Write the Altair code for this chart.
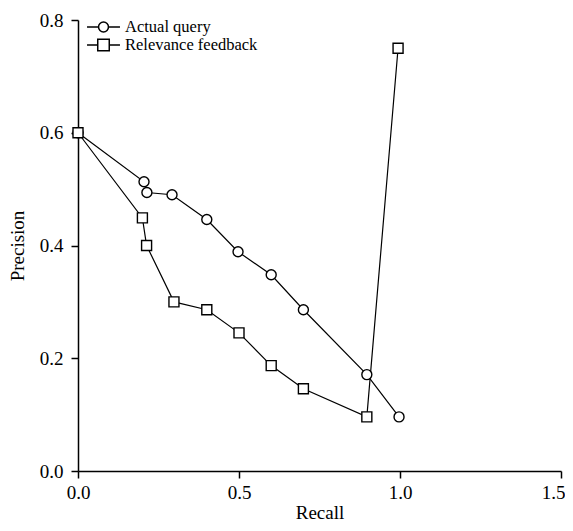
import altair as alt
import pandas as pd

series_names = ["Actual query", "Relevance feedback"]

aq_recall = [0.0, 0.205, 0.214, 0.292, 0.4, 0.497, 0.6, 0.7, 0.897, 0.997]
aq_precision = [0.6, 0.513, 0.494, 0.49, 0.446, 0.389, 0.348, 0.286, 0.171, 0.096]

rf_recall = [0.0, 0.2, 0.213, 0.298, 0.4, 0.5, 0.6, 0.7, 0.897, 0.994]
rf_precision = [0.6, 0.449, 0.4, 0.3, 0.286, 0.245, 0.187, 0.146, 0.096, 0.75]

x_ticks = [0.0, 0.5, 1.0, 1.5]
y_ticks = [0.0, 0.2, 0.4, 0.6, 0.8]

rows = []
for i, (r, p) in enumerate(zip(aq_recall, aq_precision)):
    rows.append({"series": series_names[0], "recall": r, "precision": p, "order": i})
for i, (r, p) in enumerate(zip(rf_recall, rf_precision)):
    rows.append({"series": series_names[1], "recall": r, "precision": p, "order": i})
df = pd.DataFrame(rows)

legend_df = pd.DataFrame({"series": series_names,
                          "recall": [None, None], "precision": [None, None]})

FONT = "Liberation Serif, Times New Roman, DejaVu Serif, serif"

x_enc = alt.X("recall:Q", title="Recall",
              scale=alt.Scale(domain=[0, 1.5], nice=False, zero=False),
              axis=alt.Axis(values=x_ticks, format=".1f", grid=False, labelFlush=False,
                            labelOffset={"condition": {"test": "datum.value == 1.5", "value": -8},
                                         "value": 0}))
y_enc = alt.Y("precision:Q", title="Precision",
              scale=alt.Scale(domain=[0, 0.8], nice=False, zero=False),
              axis=alt.Axis(values=y_ticks, format=".1f", grid=False, labelFlush=False))

base = alt.Chart(df)

lines = base.mark_line(color="black", strokeWidth=1.2).encode(
    x=x_enc, y=y_enc, detail="series:N", order="order:Q"
)

points = base.mark_point(filled=True, fill="white", stroke="black",
                         strokeWidth=1.4, size=100, opacity=1).encode(
    x=x_enc, y=y_enc,
    shape=alt.Shape("series:N",
                    scale=alt.Scale(domain=series_names, range=["circle", "square"]),
                    legend=None),
)

circle_path = ("M-2.06,0L-0.62,0M0.62,0L2.06,0"
               "M-0.62,0A0.62,0.62 0 1,0 0.62,0A0.62,0.62 0 1,0 -0.62,0Z")
square_path = ("M-2.06,0L-0.72,0M0.72,0L2.06,0"
               "M-0.72,-0.72L0.72,-0.72L0.72,0.72L-0.72,0.72Z")

legend_layer = alt.Chart(legend_df).mark_point(
    filled=False, color="black", strokeWidth=1.5, opacity=1
).encode(
    x=x_enc, y=y_enc,
    shape=alt.Shape("series:N",
                    scale=alt.Scale(domain=series_names, range=[circle_path, square_path]),
                    legend=alt.Legend(title=None, orient="none", legendX=16.5, legendY=-2,
                                      symbolSize=256, symbolStrokeWidth=1.5,
                                      symbolStrokeColor="black", symbolOpacity=1,
                                      labelOffset=12.5, rowPadding=-1,
                                      labelFont=FONT, labelFontSize=16.5,
                                      labelColor="black", labelBaseline="middle")),
)

chart = alt.layer(lines, legend_layer, points).resolve_scale(shape="independent").properties(
    width=483, height=451,
    autosize=alt.AutoSizeParams(type="none"),
    padding={"left": 70, "top": 12, "right": 4, "bottom": 50},
).configure_view(stroke=None).configure_axis(
    domainColor="black", tickColor="black", domainWidth=1.5, tickWidth=1.5,
    tickSize=7, labelFont=FONT, labelFontSize=19, labelColor="black",
    titleFont=FONT, titleFontSize=19, titleFontWeight="normal", titleColor="black",
).configure_axisX(labelPadding=5, titlePadding=16, titleBaseline="alphabetic").configure_axisY(
    labelPadding=8, titlePadding=12
)

chart.save("out.html", embed_options={"renderer": "svg", "actions": False})
